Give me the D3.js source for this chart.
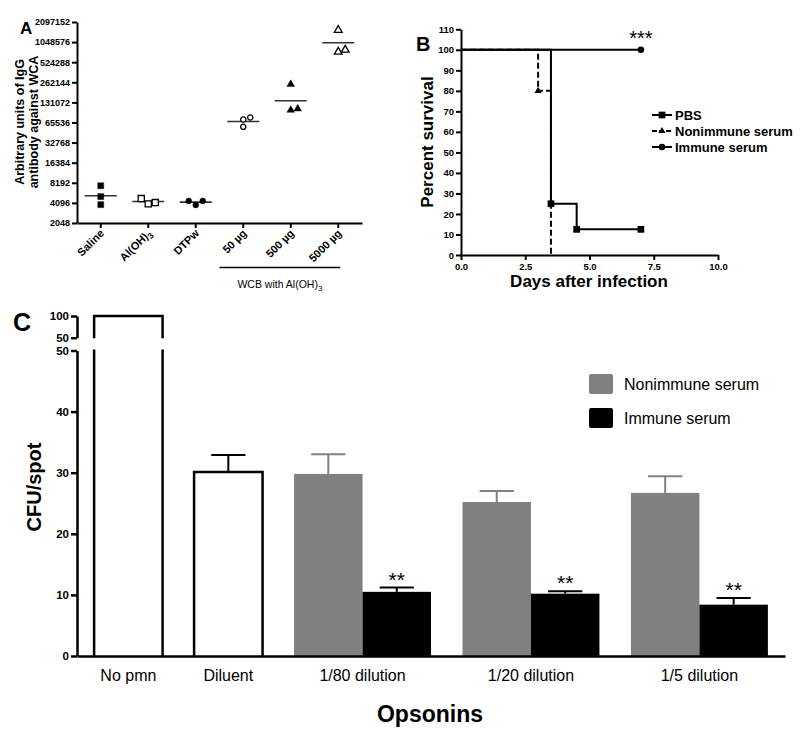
<!DOCTYPE html>
<html><head><meta charset="utf-8">
<script src="https://cdn.jsdelivr.net/npm/d3@7"></script>
<style>body{margin:0;background:#fff} svg{display:block} text{font-family:"Liberation Sans",Arial,sans-serif}</style>
</head><body><svg id="c" width="800" height="740"></svg>
<script>
// ---------- Panel A data ----------
const groupsA = ["Saline","Al(OH)3","DTPw","50 µg","500 µg","5000 µg"];
const valuesA = [[7400,5100,3860],[3960,4140,4750],[3820,4390,4390],[72700,56500,77900],[244600,100400,105300],[1589000,749000,803000]];
const meansA = [5250,4300,4200,67800,139000,1025000];
const ticksA = [2048,4096,8192,16384,32768,65536,131072,262144,524288,1048576,2097152];
// ---------- Panel B data ----------
const seriesB = ["PBS","Nonimmune serum","Immune serum"];
const daysPBS = [0,3.5,4.5,7], survPBS = [100,25,12.5,12.5];
const daysNon = [0,3,3.5], survNon = [100,80,0];
const daysImm = [0,7], survImm = [100,100];
const ticksBx = [0,2.5,5,7.5,10];
const ticksBy = [0,10,20,30,40,50,60,70,80,90,100,110];
// ---------- Panel C data ----------
const categoriesC = ["No pmn","Diluent","1/80 dilution","1/20 dilution","1/5 dilution"];
const controlMean = [100,30.1], controlErr = [0,2.8];
const nonimmuneMean = [29.8,25.2,26.7], nonimmuneErr = [3.2,1.8,2.7];
const immuneMean = [10.5,10.2,8.4], immuneErr = [0.7,0.4,1.1];
const seriesC = ["Nonimmune serum","Immune serum"];
const ticksCLow = [0,10,20,30,40,50], ticksCUp = [50,100];

const svg = d3.select("#c");
const GRAY = "#808080";
function styleAxis(g, sw, fs){
  g.selectAll("path,line").attr("stroke","#000").attr("stroke-width",sw);
  g.selectAll("text").attr("font-size",fs).attr("font-weight","bold").attr("fill","#000")
   .style("font-family",'"Liberation Sans",Arial,sans-serif');
}

// ================= PANEL A =================
(function(){
  const yA = d3.scaleLog().base(2).domain([2048,2097152]).range([223,22]);
  const xA = d3.scaleBand().domain(groupsA).range([77,362]);
  const gA = svg.append("g");
  const ay = gA.append("g").attr("transform","translate(77,0)")
    .call(d3.axisLeft(yA).tickValues(ticksA).tickFormat(d3.format("d")).tickSize(5).tickSizeOuter(0).tickPadding(2));
  styleAxis(ay,2,"9px");
  const ax = gA.append("g").attr("transform","translate(0,223)")
    .call(d3.axisBottom(xA).tickSize(5).tickSizeOuter(0).tickFormat(""));
  styleAxis(ax,2,"9px");
  groupsA.forEach(gname=>{
    const cx = xA(gname)+xA.bandwidth()/2;
    const t = gA.append("text").attr("transform",`translate(${cx+4},${234}) rotate(-45)`)
      .attr("text-anchor","end").attr("font-size","11px").attr("font-weight","bold");
    if(gname==="Al(OH)3"){
      t.append("tspan").text("Al(OH)");
      t.append("tspan").text("3").attr("font-size","8.5px").attr("dy",3);
    } else t.text(gname);
  });
  const bx1 = xA("50 µg"), bx2 = xA("5000 µg")+xA.bandwidth()/2+2;
  gA.append("line").attr("x1",bx1).attr("x2",bx2).attr("y1",267.5).attr("y2",267.5).attr("stroke","#000").attr("stroke-width",1.6);
  const wt = gA.append("text").attr("x",(bx1+bx2)/2).attr("y",288).attr("text-anchor","middle").attr("font-size","10.5px");
  wt.append("tspan").text("WCB with Al(OH)");
  wt.append("tspan").text("3").attr("font-size","8px").attr("dy",3);
  const yl = gA.append("text").attr("transform","translate(24,122) rotate(-90)").attr("text-anchor","middle")
    .attr("font-size","12.5px").attr("font-weight","bold");
  yl.append("tspan").attr("x",0).attr("y",0).text("Arbitrary units of IgG");
  yl.append("tspan").attr("x",0).attr("y",14).text("antibody against WCA");
  gA.append("text").attr("x",20).attr("y",34).attr("font-size","17px").attr("font-weight","bold").text("A");
  const shapes = [
    {t:d3.symbolSquare,s:36,fill:"#000"},
    {t:d3.symbolSquare,s:38,fill:"#fff"},
    {t:d3.symbolCircle,s:28,fill:"#000"},
    {t:d3.symbolCircle,s:22,fill:"#fff"},
    {t:d3.symbolTriangle,s:26,fill:"#000"},
    {t:d3.symbolTriangle,s:26,fill:"#fff"}
  ];
  groupsA.forEach((gname,i)=>{
    const cx = xA(gname)+xA.bandwidth()/2;
    gA.append("line").attr("x1",cx-16).attr("x2",cx+16).attr("y1",yA(meansA[i])).attr("y2",yA(meansA[i]))
      .attr("stroke","#333").attr("stroke-width",1.6);
    const placed = [];
    valuesA[i].forEach(v=>{
      const y = yA(v);
      let off = 0;
      for(const c of [0,7,-7,14,-14]){
        if(placed.every(p=>Math.hypot(p[0]-c,p[1]-y)>=7)){off=c;break;}
      }
      placed.push([off,y]);
      const sh = shapes[i];
      gA.append("path").attr("d",d3.symbol().type(sh.t).size(sh.s)())
        .attr("transform",`translate(${cx+off},${y})`)
        .attr("fill",sh.fill).attr("stroke","#000").attr("stroke-width",sh.fill==="#fff"?1.3:0.4);
    });
  });
})();

// ================= PANEL B =================
(function(){
  const xB = d3.scaleLinear().domain([0,10]).range([461,718]);
  const yB = d3.scaleLinear().domain([0,110]).range([255,29.3]);
  const gB = svg.append("g");
  const ay = gB.append("g").attr("transform","translate(461,0)")
    .call(d3.axisLeft(yB).tickValues(ticksBy).tickSize(5).tickSizeOuter(0).tickPadding(2));
  styleAxis(ay,2,"9.5px");
  const ax = gB.append("g").attr("transform","translate(0,255)")
    .call(d3.axisBottom(xB).tickValues(ticksBx).tickFormat(d3.format(".1f")).tickSize(5).tickSizeOuter(0).tickPadding(3));
  styleAxis(ax,2,"9.5px");
  const line = d3.line().x(d=>xB(d[0])).y(d=>yB(d[1])).curve(d3.curveStepAfter);
  const zip = (a,b)=>a.map((v,i)=>[v,b[i]]);
  const non = zip(daysNon,survNon), pbs = zip(daysPBS,survPBS), imm = zip(daysImm,survImm);
  gB.append("path").attr("d",line(non)).attr("fill","none").attr("stroke","#000").attr("stroke-width",2).attr("stroke-dasharray","6,3");
  gB.append("path").attr("d",line(imm)).attr("fill","none").attr("stroke","#000").attr("stroke-width",2);
  gB.append("path").attr("d",line(pbs)).attr("fill","none").attr("stroke","#000").attr("stroke-width",2);
  const sq = d3.symbol().type(d3.symbolSquare).size(45)();
  const tri = d3.symbol().type(d3.symbolTriangle).size(22)();
  const circ = d3.symbol().type(d3.symbolCircle).size(34)();
  pbs.slice(1).forEach(d=>gB.append("path").attr("d",sq).attr("transform",`translate(${xB(d[0])},${yB(d[1])})`));
  gB.append("path").attr("d",tri).attr("transform",`translate(${xB(non[1][0])},${yB(non[1][1])})`);
  imm.slice(1).forEach(d=>gB.append("path").attr("d",circ).attr("transform",`translate(${xB(d[0])},${yB(d[1])})`));
  gB.append("text").attr("x",xB(7)).attr("y",45).attr("text-anchor","middle").attr("font-size","20px").text("***");
  const marks = [sq,tri,circ], dashes = [null,"5,2",null];
  seriesB.forEach((s,i)=>{
    const y = 115+i*16;
    gB.append("line").attr("x1",652).attr("x2",672).attr("y1",y).attr("y2",y).attr("stroke","#000").attr("stroke-width",2)
      .attr("stroke-dasharray",dashes[i]);
    gB.append("path").attr("d",marks[i]).attr("transform",`translate(662,${y})`);
    gB.append("text").attr("x",675).attr("y",y+4.5).attr("font-size","13px").attr("font-weight","bold").text(s);
  });
  gB.append("text").attr("transform","translate(433,142) rotate(-90)").attr("text-anchor","middle")
    .attr("font-size","17px").attr("font-weight","bold").text("Percent survival");
  gB.append("text").attr("x",589).attr("y",287).attr("text-anchor","middle")
    .attr("font-size","17px").attr("font-weight","bold").text("Days after infection");
  gB.append("text").attr("x",416).attr("y",51).attr("font-size","20px").attr("font-weight","bold").text("B");
})();

// ================= PANEL C =================
(function(){
  const gC = svg.append("g");
  const yLow = d3.scaleLinear().domain([0,50]).range([656,350.5]);
  const yUp = d3.scaleLinear().domain([50,100]).range([337.7,316]);
  const nBars = [1,1,2,2,2];
  let u = 0.25; const gs = [];
  nBars.forEach((n,i)=>{ gs.push(u); u += n + (i<nBars.length-1?0.46:0.25); });
  const xC = d3.scaleLinear().domain([0,u]).range([77,785]);
  const bw = xC(1)-xC(0);
  controlMean.forEach((v,i)=>{
    const x0 = xC(gs[i]), x1 = xC(gs[i]+1);
    if(v>50){
      gC.append("path").attr("d",`M${x0},656V${yLow(50)-1}M${x1},656V${yLow(50)-1}`)
        .attr("fill","none").attr("stroke","#000").attr("stroke-width",2.5);
      gC.append("path").attr("d",`M${x0},${yUp(50)+0.6}V${yUp(v)}H${x1}V${yUp(50)+0.6}`)
        .attr("fill","none").attr("stroke","#000").attr("stroke-width",2.5);
    } else {
      const cx = (x0+x1)/2;
      gC.append("line").attr("x1",cx).attr("x2",cx).attr("y1",yLow(v)).attr("y2",yLow(v+controlErr[i])).attr("stroke","#000").attr("stroke-width",2);
      gC.append("line").attr("x1",cx-bw/4).attr("x2",cx+bw/4).attr("y1",yLow(v+controlErr[i])).attr("y2",yLow(v+controlErr[i])).attr("stroke","#000").attr("stroke-width",2);
      gC.append("path").attr("d",`M${x0},656V${yLow(v)}H${x1}V656`).attr("fill","#fff").attr("stroke","#000").attr("stroke-width",2.5);
    }
  });
  function drawBar(x0,v,e,col){
    const cx = x0+bw/2;
    gC.append("line").attr("x1",cx).attr("x2",cx).attr("y1",yLow(v)).attr("y2",yLow(v+e)).attr("stroke",col).attr("stroke-width",2);
    gC.append("line").attr("x1",cx-bw/4).attr("x2",cx+bw/4).attr("y1",yLow(v+e)).attr("y2",yLow(v+e)).attr("stroke",col).attr("stroke-width",2);
    gC.append("rect").attr("x",x0).attr("y",yLow(v)).attr("width",bw).attr("height",656-yLow(v)).attr("fill",col);
  }
  nonimmuneMean.forEach((v,i)=>{
    const g = gs[i+2];
    drawBar(xC(g),v,nonimmuneErr[i],GRAY);
    drawBar(xC(g+1),immuneMean[i],immuneErr[i],"#000");
    gC.append("text").attr("x",xC(g+1)+bw/2).attr("y",yLow(immuneMean[i]+immuneErr[i])-1)
      .attr("text-anchor","middle").attr("font-size","21px").text("**");
  });
  const ayl = gC.append("g").attr("transform","translate(77,0)")
    .call(d3.axisLeft(yLow).tickValues(ticksCLow).tickSize(6).tickSizeOuter(0).tickPadding(2));
  styleAxis(ayl,2.5,"11.5px");
  const ayu = gC.append("g").attr("transform","translate(77,0)")
    .call(d3.axisLeft(yUp).tickValues(ticksCUp).tickSize(6).tickSizeOuter(0).tickPadding(2));
  styleAxis(ayu,2.5,"11.5px");
  const axc = gC.append("g").attr("transform","translate(0,656)")
    .call(d3.axisBottom(xC).tickValues([]).tickSizeOuter(0));
  styleAxis(axc,2.5,"11px");
  categoriesC.forEach((c,i)=>{
    const cx = xC(gs[i]+nBars[i]/2);
    gC.append("text").attr("x",cx).attr("y",681).attr("text-anchor","middle").attr("font-size","16px").text(c);
  });
  gC.append("text").attr("x",430).attr("y",722).attr("text-anchor","middle").attr("font-size","23px").attr("font-weight","bold").text("Opsonins");
  gC.append("text").attr("transform","translate(41,487) rotate(-90)").attr("text-anchor","middle")
    .attr("font-size","20px").attr("font-weight","bold").text("CFU/spot");
  gC.append("text").attr("x",13).attr("y",331).attr("font-size","25px").attr("font-weight","bold").text("C");
  [GRAY,"#000"].forEach((col,i)=>{
    const y = 374+i*34;
    gC.append("rect").attr("x",589).attr("y",y).attr("width",24).attr("height",20).attr("rx",2).attr("fill",col);
    gC.append("text").attr("x",624).attr("y",y+16).attr("font-size","16px").text(seriesC[i]);
  });
})();
</script></body></html>
